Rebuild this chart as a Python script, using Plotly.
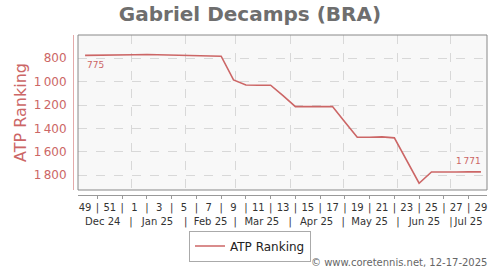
import pandas as pd
import plotly.graph_objects as go

# ---- data ----
first_week_date = "2024-12-06"
week_numbers = [49, 50, 51, 52] + list(range(1, 30))
ranks = [775, 775, 773, 772, 770, 768, 770, 771, 772, 775, 782, 782,
         985, 1028, 1030, 1030, 1120, 1213, 1213, 1215, 1213, 1345,
         1475, 1475, 1472, 1480, 1675, 1868, 1772, 1775, 1772, 1771, 1771]
month_starts = ["2025-01-01", "2025-02-01", "2025-03-01", "2025-04-01",
                "2025-05-01", "2025-06-01", "2025-07-01"]
month_label_dates = ["2024-12-16", "2025-01-16", "2025-02-15", "2025-03-16",
                     "2025-04-16", "2025-05-16", "2025-06-16", "2025-07-11"]
month_labels = ["Dec 24", "Jan 25", "Feb 25", "Mar 25", "Apr 25",
                "May 25", "Jun 25", "Jul 25"]
y_ticks = [800, 1000, 1200, 1400, 1600, 1800]
series_name = "ATP Ranking"
title = "Gabriel Decamps (BRA)"
credit = "© www.coretennis.net, 12-17-2025"

dates = pd.date_range(first_week_date, periods=len(ranks), freq="7D")

RED = "#cc6666"
W, H = 500, 270
ML, MR, MT, MB = 73, 13, 35, 75
PW, PH = W - ML - MR, H - MT - MB
xd0 = 5 / PW
yd0 = 5 / PH

def fmt(v):
    s = f"{v:,}"
    return s.replace(",", "\u2009")

week_text = [str(w) if w % 2 == 1 else "|" for w in week_numbers]
even_dates = [d for d, w in zip(dates, week_numbers) if w % 2 == 0]

m_vals = list(month_label_dates) + list(month_starts)
m_text = list(month_labels) + ["|"] * len(month_starts)

fig = go.Figure()
fig.add_trace(go.Scatter(x=dates, y=ranks, mode="lines", name=series_name,
                         line=dict(color=RED, width=1.6), xaxis="x", yaxis="y"))
for ax in ("x2", "x3"):
    fig.add_trace(go.Scatter(x=dates, y=ranks, mode="lines", showlegend=False,
                             hoverinfo="skip", line=dict(color="rgba(0,0,0,0)", width=0),
                             xaxis=ax, yaxis="y"))

xrange = ["2024-12-02", "2025-07-21 10:00"]
tickfont = dict(family="DejaVu Sans", size=10, color="#333333")

fig.update_layout(
    width=W, height=H,
    margin=dict(l=ML, r=MR, t=MT, b=MB, autoexpand=False),
    paper_bgcolor="white",
    plot_bgcolor="#f8f8f8",
    font=dict(family="DejaVu Sans"),
    title=dict(text="<b>" + title + "</b>", x=0.5, xref="container", xanchor="center",
               y=1 - 14 / H, yref="container", yanchor="middle",
               font=dict(family="DejaVu Sans", size=20, color="#6e6e6e")),
    showlegend=True,
    legend=dict(orientation="h", xref="container", yref="container",
                x=0.5, xanchor="center", y=1 - 246 / H, yanchor="middle",
                bordercolor="#aaaaaa", borderwidth=1, bgcolor="white",
                font=dict(family="DejaVu Sans", size=12, color="#222222"),
                itemwidth=30, tracegroupgap=0),
    xaxis=dict(type="date", domain=[xd0, 1], range=xrange, anchor="free", position=0,
               showline=True, linecolor="#999999", linewidth=1, automargin=False,
               tickmode="array", tickvals=list(dates), ticktext=week_text,
               ticks="", showgrid=False, zeroline=False, tickfont=tickfont,
               ticklabelstandoff=3,
               minor=dict(tickvals=even_dates, ticks="outside", ticklen=3,
                          tickcolor="#999999", showgrid=False)),
    xaxis2=dict(type="date", domain=[xd0, 1], range=xrange, overlaying="x", matches="x",
                anchor="free", position=0, showline=False, automargin=False,
                tickmode="array", tickvals=m_vals, ticktext=m_text,
                ticks="", showgrid=False, zeroline=False, tickfont=tickfont,
                ticklabelstandoff=19),
    xaxis3=dict(type="date", domain=[xd0, 1], range=xrange, overlaying="x", matches="x",
                anchor="y", showline=False, showticklabels=False, automargin=False,
                tickmode="array", tickvals=month_starts, ticks="",
                showgrid=True, gridcolor="#d8d8d8", griddash="dash", gridwidth=1,
                zeroline=False),
    yaxis=dict(domain=[yd0, 1], range=[1926, 601], anchor="free", position=0,
               showline=True, linecolor="#e3aaaa", linewidth=1, automargin=False,
               tickmode="array", tickvals=y_ticks, ticktext=[fmt(v) for v in y_ticks],
               ticks="", showgrid=True, gridcolor="#d8d8d8", griddash="dash",
               zeroline=False, ticklabelstandoff=4,
               tickfont=dict(family="DejaVu Sans", size=12, color=RED),
               title=dict(text=series_name, standoff=2,
                          font=dict(family="DejaVu Sans", size=16, color=RED))),
)

fig.add_shape(type="rect", xref="paper", yref="paper", x0=xd0, x1=1, y0=yd0, y1=1,
              line=dict(color="#888888", width=1), layer="above")

fig.add_annotation(x=dates[0], y=ranks[0], xref="x", yref="y", text=fmt(ranks[0]),
                   showarrow=False, xanchor="left", yanchor="middle", yshift=-10, xshift=0,
                   font=dict(family="DejaVu Sans", size=9, color=RED))
fig.add_annotation(x=dates[-1], y=ranks[-1], xref="x", yref="y", text=fmt(ranks[-1]),
                   showarrow=False, xanchor="right", yanchor="middle", yshift=11, xshift=2,
                   font=dict(family="DejaVu Sans", size=9, color=RED))
fig.add_annotation(x=(489 - ML) / PW, y=(MT + PH - 262) / PH, xref="paper", yref="paper",
                   text=credit, showarrow=False, xanchor="right", yanchor="middle",
                   font=dict(family="DejaVu Sans", size=10, color="#666666"))

fig.write_html("out.html")
